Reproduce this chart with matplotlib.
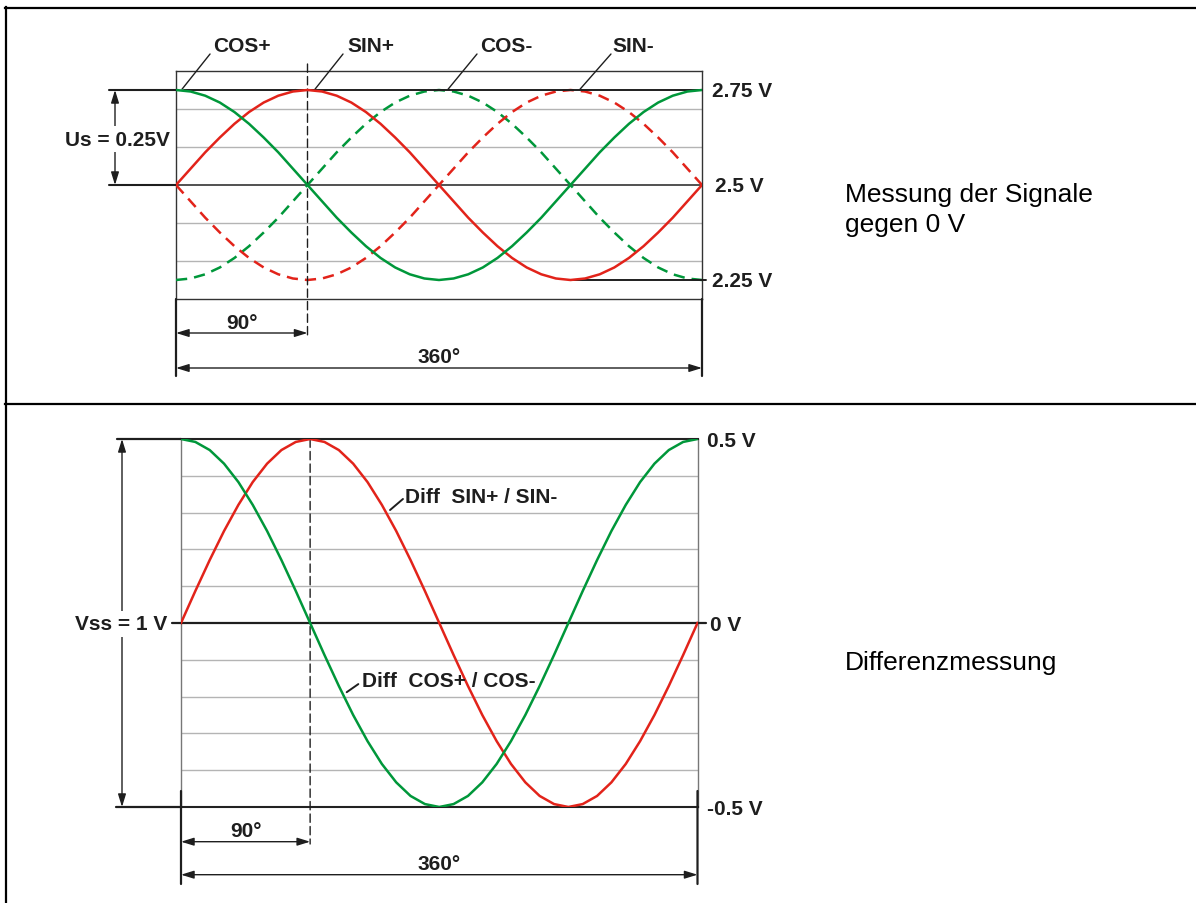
import matplotlib
matplotlib.use("Agg")
import matplotlib.pyplot as plt
from matplotlib.lines import Line2D

plt.rcParams['font.family'] = ['Liberation Sans', 'DejaVu Sans']

# phase angle in degrees (sample positions read every 10 deg)
angle = list(range(0, 361, 10))

# signals measured against 0 V (top panel), volts
cos_pos = [2.750, 2.746, 2.735, 2.717, 2.692, 2.661, 2.625, 2.586, 2.543, 2.500,
           2.457, 2.414, 2.375, 2.339, 2.308, 2.283, 2.265, 2.254, 2.250, 2.254,
           2.265, 2.283, 2.308, 2.339, 2.375, 2.414, 2.457, 2.500, 2.543, 2.586,
           2.625, 2.661, 2.692, 2.717, 2.735, 2.746, 2.750]
sin_pos = [2.500, 2.543, 2.586, 2.625, 2.661, 2.692, 2.717, 2.735, 2.746, 2.750,
           2.746, 2.735, 2.717, 2.692, 2.661, 2.625, 2.586, 2.543, 2.500, 2.457,
           2.414, 2.375, 2.339, 2.308, 2.283, 2.265, 2.254, 2.250, 2.254, 2.265,
           2.283, 2.308, 2.339, 2.375, 2.414, 2.457, 2.500]
cos_neg = [2.250, 2.254, 2.265, 2.283, 2.308, 2.339, 2.375, 2.414, 2.457, 2.500,
           2.543, 2.586, 2.625, 2.661, 2.692, 2.717, 2.735, 2.746, 2.750, 2.746,
           2.735, 2.717, 2.692, 2.661, 2.625, 2.586, 2.543, 2.500, 2.457, 2.414,
           2.375, 2.339, 2.308, 2.283, 2.265, 2.254, 2.250]
sin_neg = [2.500, 2.457, 2.414, 2.375, 2.339, 2.308, 2.283, 2.265, 2.254, 2.250,
           2.254, 2.265, 2.283, 2.308, 2.339, 2.375, 2.414, 2.457, 2.500, 2.543,
           2.586, 2.625, 2.661, 2.692, 2.717, 2.735, 2.746, 2.750, 2.746, 2.735,
           2.717, 2.692, 2.661, 2.625, 2.586, 2.543, 2.500]

# differential signals (bottom panel), volts
diff_sin = [0.000, 0.087, 0.171, 0.250, 0.321, 0.383, 0.433, 0.470, 0.492, 0.500,
            0.492, 0.470, 0.433, 0.383, 0.321, 0.250, 0.171, 0.087, 0.000, -0.087,
            -0.171, -0.250, -0.321, -0.383, -0.433, -0.470, -0.492, -0.500, -0.492, -0.470,
            -0.433, -0.383, -0.321, -0.250, -0.171, -0.087, 0.000]
diff_cos = [0.500, 0.492, 0.470, 0.433, 0.383, 0.321, 0.250, 0.171, 0.087, 0.000,
            -0.087, -0.171, -0.250, -0.321, -0.383, -0.433, -0.470, -0.492, -0.500, -0.492,
            -0.470, -0.433, -0.383, -0.321, -0.250, -0.171, -0.087, 0.000, 0.087, 0.171,
            0.250, 0.321, 0.383, 0.433, 0.470, 0.492, 0.500]

top_levels = [2.75, 2.5, 2.25]
top_level_labels = ['2.75 V', '2.5 V', '2.25 V']
top_grid = [2.3, 2.4, 2.6, 2.7]
bot_levels = [0.5, 0.0, -0.5]
bot_level_labels = ['0.5 V', '0 V', '-0.5 V']
bot_grid = [-0.4, -0.3, -0.2, -0.1, 0.1, 0.2, 0.3, 0.4]

GREEN = '#00973a'
RED = '#e2231a'
TXT = '#1e1e1e'
GRID = '#b4b4b4'
W, H = 1196, 904

fig = plt.figure(figsize=(W / 100, H / 100), dpi=100)


def box(l, t, r, b):
    return [l / W, 1 - b / H, (r - l) / W, (b - t) / H]


def seg(ax, p0, p1, c0='data', c1=None, lw=1.0, style='-', color=TXT, ls='-', hl=0.55, hw=0.17):
    if style != '-':
        style = style + ',head_length=%s,head_width=%s' % (hl, hw)
    ax.annotate('', xy=p1, xycoords=c1 or c0, xytext=p0, textcoords=c0,
                arrowprops=dict(arrowstyle=style, lw=lw, color=color, linestyle=ls,
                                shrinkA=0, shrinkB=0, mutation_scale=14),
                annotation_clip=False)


def label(ax, s, xy, coords='data', off=(0, 0), ha='left', size=15, bg=False):
    kw = {}
    if bg:
        kw['bbox'] = dict(facecolor='white', edgecolor='none', pad=2.5)
    ax.annotate(s, xy=xy, xycoords=coords, xytext=off, textcoords='offset pixels',
                ha=ha, va='baseline', fontsize=size, fontweight='bold', color=TXT,
                annotation_clip=False, zorder=6, **kw)


def style_axes(ax, xlim, ylim):
    ax.set_xlim(*xlim)
    ax.set_ylim(*ylim)
    ax.set_xticks([])
    ax.set_yticks([])
    ax.patch.set_alpha(0)


# ---------------- top panel ----------------
ax1 = fig.add_axes(box(176, 72, 702, 300))
style_axes(ax1, (0, 360), (2.2, 2.8))
for s in ax1.spines.values():
    s.set_color('#333333')
    s.set_linewidth(1.0)
for g in top_grid:
    ax1.axhline(g, color=GRID, lw=1, zorder=1)
ax1.axhline(2.5, color='#222222', lw=1.1, zorder=1)

dash = (0, (4.5, 2.8))
ax1.plot(angle, cos_neg, color=GREEN, lw=1.8, ls=dash, zorder=3)
ax1.plot(angle, sin_neg, color=RED, lw=1.8, ls=dash, zorder=3)
ax1.plot(angle, sin_pos, color=RED, lw=1.8, zorder=4)
ax1.plot(angle, cos_pos, color=GREEN, lw=1.8, zorder=4)

# curve names with leader lines
names = ['COS+', 'SIN+', 'COS-', 'SIN-']
name_x = [25.3, 117, 208, 299]
lead_from = [23.3, 114.3, 206, 297.7]
lead_to = [4.1, 95.1, 186.2, 276.5]
for n, x, lf, lt in zip(names, name_x, lead_from, lead_to):
    label(ax1, n, (x, 248), coords=('data', 'axes pixels'))
    seg(ax1, (lf, 245), (lt, 2.752), c0=('data', 'axes pixels'), c1='data', lw=1.0)

# level labels on the right
for lv, txt, dx in zip(top_levels, top_level_labels, [10, 13, 10]):
    label(ax1, txt, (360, lv), off=(dx, -6))
seg(ax1, (360, 2.75), (8, 2.75), c0='data', c1=('axes pixels', 'data'), lw=1.4)
seg(ax1, (270, 2.25), (530, 2.25), c0='data', c1=('axes pixels', 'data'), lw=1.4)
seg(ax1, (-67, 2.75), (0, 2.75), c0=('axes pixels', 'data'), lw=1.5)
seg(ax1, (-67, 2.5), (0, 2.5), c0=('axes pixels', 'data'), lw=1.5)
seg(ax1, (-61, 2.75), (-61, 2.5), c0=('axes pixels', 'data'), style='<|-|>')
label(ax1, 'Us = 0.25V', (-59, 2.606), coords=('axes pixels', 'data'), ha='center', bg=True)

# phase dimensions
seg(ax1, (90, 235), (90, -40), c0=('data', 'axes pixels'), ls=(0, (6, 3)))
seg(ax1, (0, 0), (0, -77), c0=('data', 'axes pixels'), lw=1.6)
seg(ax1, (360, 0), (360, -77), c0=('data', 'axes pixels'), lw=1.6)
seg(ax1, (0, -34), (90, -34), c0=('data', 'axes pixels'), style='<|-|>')
seg(ax1, (0, -69), (360, -69), c0=('data', 'axes pixels'), style='<|-|>')
label(ax1, '90°', (45, -29), coords=('data', 'axes pixels'), ha='center')
label(ax1, '360°', (180, -63), coords=('data', 'axes pixels'), ha='center')

fig.text(845 / W, 1 - 232 / H, 'Messung der Signale\ngegen 0 V', fontsize=19,
         color='black', ha='left', va='baseline', linespacing=1.3)

# ---------------- bottom panel ----------------
ax2 = fig.add_axes(box(181, 440, 697.5, 808))
style_axes(ax2, (0, 360), (-0.5, 0.5))
for k, s in ax2.spines.items():
    s.set_color('#222222' if k in ('top', 'bottom') else '#777777')
    s.set_linewidth(1.5 if k in ('top', 'bottom') else 1.0)
for g in bot_grid:
    ax2.axhline(g, color=GRID, lw=1, zorder=1)

ax2.plot(angle, diff_sin, color=RED, lw=1.8, zorder=4)
ax2.plot(angle, diff_cos, color=GREEN, lw=1.8, zorder=4)

for lv, txt, dx in zip(bot_levels, bot_level_labels, [9.5, 13, 9.5]):
    label(ax2, txt, (360, lv), off=(dx, -7))
seg(ax2, (-9, 0), (525, 0), c0=('axes pixels', 'data'), lw=1.6)
seg(ax2, (-64, 0.5), (0, 0.5), c0=('axes pixels', 'data'), lw=1.6)
seg(ax2, (-65, -0.5), (0, -0.5), c0=('axes pixels', 'data'), lw=1.6)
seg(ax2, (-59, 0.5), (-59, -0.5), c0=('axes pixels', 'data'), style='<|-|>')
label(ax2, 'Vss = 1 V', (-60, 0), coords=('axes pixels', 'data'), off=(0, -6.5),
      ha='center', bg=True)

label(ax2, 'Diff  SIN+ / SIN-', (156.1, 0.328))
seg(ax2, (145.7, 0.307), (154.7, 0.337), lw=1.4)
label(ax2, 'Diff  COS+ / COS-', (126.2, -0.170))
seg(ax2, (115.5, -0.188), (123.6, -0.166), lw=1.4)

seg(ax2, (90, 368), (90, -37), c0=('data', 'axes pixels'), ls=(0, (6, 3)))
seg(ax2, (0, 16), (0, -77), c0=('data', 'axes pixels'), lw=1.6)
seg(ax2, (360, 16), (360, -77), c0=('data', 'axes pixels'), lw=1.6)
seg(ax2, (0, -34.7), (90, -34.7), c0=('data', 'axes pixels'), style='<|-|>')
seg(ax2, (0, -67.7), (360, -67.7), c0=('data', 'axes pixels'), style='<|-|>')
label(ax2, '90°', (45, -28.7), coords=('data', 'axes pixels'), ha='center')
label(ax2, '360°', (180, -62), coords=('data', 'axes pixels'), ha='center')

fig.text(845 / W, 1 - 670 / H, 'Differenzmessung', fontsize=19,
         color='black', ha='left', va='baseline')

# outer frame
for xs, ys in [([6, 6], [904, 8]), ([5, W], [9, 9]), ([5, W], [405, 405])]:
    fig.add_artist(Line2D([x / W for x in xs], [1 - y / H for y in ys],
                          transform=fig.transFigure, color='black', lw=1.6))

fig.savefig('out.png', dpi=100)
